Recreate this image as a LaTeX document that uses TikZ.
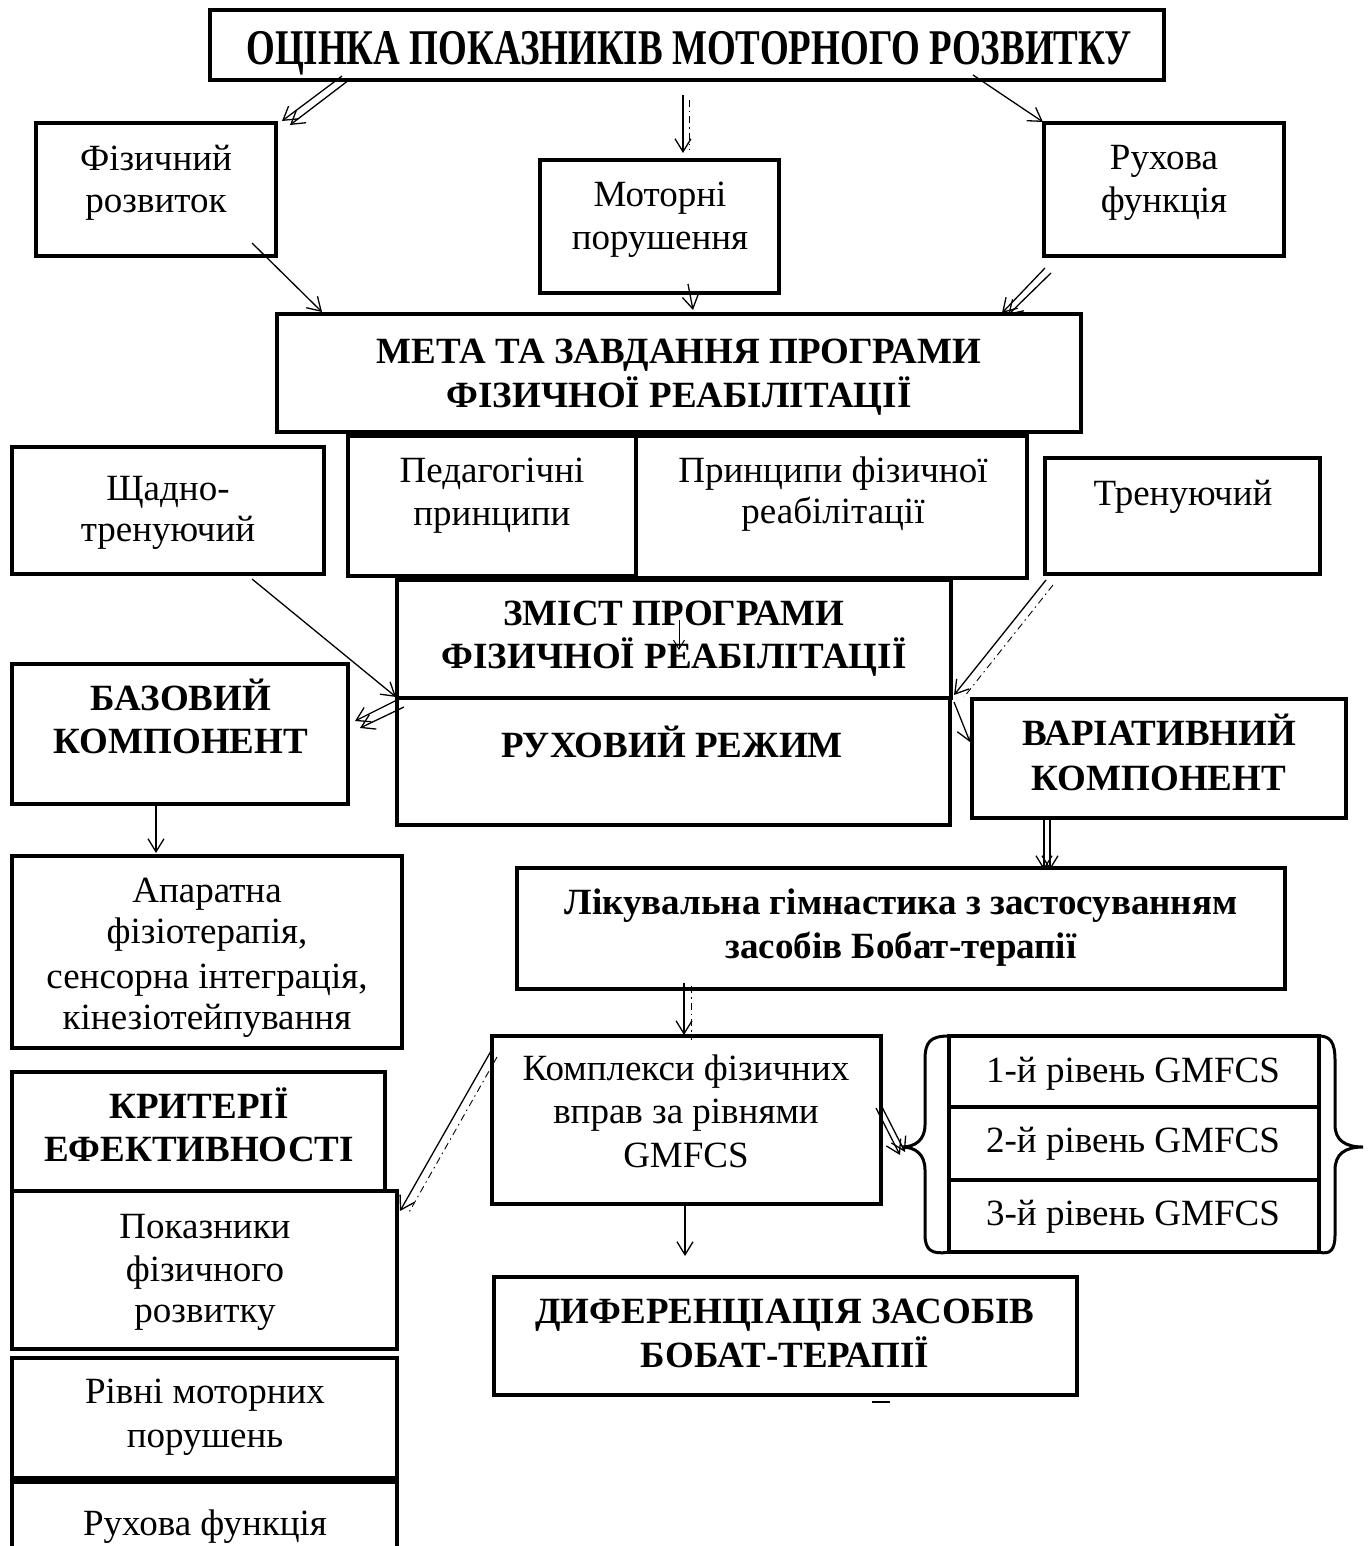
\documentclass[tikz,border=0pt]{standalone}
\usepackage{fontspec}
\setmainfont{Liberation Serif}
\usepackage{graphicx}
\usetikzlibrary{arrows.meta,calc,fit}
\tikzset{
  box/.style={draw, line width=4.5pt, inner sep=0pt, outer sep=0pt},
  txt/.style={anchor=base, inner sep=0pt, font=\fontsize{37}{43}\selectfont},
  txtb/.style={anchor=base, inner sep=0pt, font=\fontsize{37}{43}\selectfont\bfseries},
  arr/.style={line width=1.3pt, -{Straight Barb[length=13pt,width=16pt]}},
  dsh/.style={line width=0.9pt, dash pattern=on 7pt off 4pt on 1.5pt off 4pt},
  brc/.style={line width=3pt}
}
\newcommand{\Bx}[5]{\node[box, fit={(#2,#3) (#4,#5)}] (#1) {};}
\newcommand{\Tn}[4]{\node[txt] (#1) at (#2,#3) {#4};}
\newcommand{\Tb}[4]{\node[txtb] (#1) at (#2,#3) {#4};}
\begin{document}
\begin{tikzpicture}[x=1pt,y=-1pt]
\fill[white] (0,0) rectangle (1372,1546);
\useasboundingbox (0,0) rectangle (1372,1546);
\clip (0,0) rectangle (1372,1546);

% boxes
\Bx{title}{210}{10}{1164}{80}
\Bx{fiz}{36}{123}{276}{256}
\Bx{motor}{540}{160}{779}{293}
\Bx{ruh}{1044}{123}{1284}{256}
\Bx{meta}{277}{314}{1081}{432}
\Bx{shch}{12}{447}{324}{574}
\Bx{ped}{348}{436}{636}{576}
\Bx{princ}{636}{436}{1027}{578}
\Bx{tren}{1045}{458}{1320}{574}
\Bx{zmist}{397}{580}{951}{698}
\Bx{rezh}{397}{698}{950}{825}
\Bx{baz}{12}{664}{348}{804}
\Bx{var}{972}{699}{1346}{818}
\Bx{apar}{12}{856}{402}{1048}
\Bx{lik}{517}{868}{1285}{989}
\Bx{kompl}{492}{1036}{881}{1204}
\Bx{levA}{949}{1036}{1319}{1107}
\Bx{levB}{949}{1107}{1319}{1180}
\Bx{levC}{949}{1180}{1319}{1252}
\Bx{krit}{12}{1072}{385}{1191}
\Bx{pokaz}{12}{1191}{397}{1349}
\Bx{dyf}{494}{1277}{1077}{1395}
\Bx{rivni}{12}{1358}{397}{1478}
\Bx{ruhf}{12}{1482}{397}{1575}

% texts
\node[txtb] (tTitle) at (689,65) {\fontsize{37}{40}\selectfont\scalebox{1}[1.35]{ОЦІНКА ПОКАЗНИКІВ МОТОРНОГО РОЗВИТКУ}};
\Tn{tFa}{156}{171}{Фізичний}
\Tn{tFb}{156}{213}{розвиток}
\Tn{tMa}{660}{207}{Моторні}
\Tn{tMb}{660}{250}{порушення}
\Tn{tRa}{1164}{170}{Рухова}
\Tn{tRb}{1164}{213}{функція}
\Tb{tMeA}{679}{363}{МЕТА ТА ЗАВДАННЯ ПРОГРАМИ}
\Tb{tMeB}{679}{407}{ФІЗИЧНОЇ РЕАБІЛІТАЦІЇ}
\Tn{tSa}{168}{500}{Щадно-}
\Tn{tSb}{168}{541}{тренуючий}
\Tn{tPa}{492}{482}{Педагогічні}
\Tn{tPb}{492}{525}{принципи}
\Tn{tPrA}{833}{482}{Принципи фізичної}
\Tn{tPrB}{833}{523}{реабілітації}
\Tn{tTr}{1183}{505}{Тренуючий}
\Tb{tZa}{674}{625}{ЗМІСТ ПРОГРАМИ}
\Tb{tZb}{674}{668}{ФІЗИЧНОЇ РЕАБІЛІТАЦІЇ}
\Tb{tRz}{672}{757}{РУХОВИЙ РЕЖИМ}
\Tb{tBa}{181}{710}{БАЗОВИЙ}
\Tb{tBb}{181}{753}{КОМПОНЕНТ}
\Tb{tVa}{1159}{745}{ВАРІАТИВНИЙ}
\Tb{tVb}{1159}{790}{КОМПОНЕНТ}
\Tn{tAa}{207}{902}{Апаратна}
\Tn{tAb}{207}{943}{фізіотерапія,}
\Tn{tAc}{207}{988}{сенсорна інтеграція,}
\Tn{tAd}{207}{1029}{кінезіотейпування}
\Tb{tLa}{901}{914}{Лікувальна гімнастика з застосуванням}
\Tb{tLb}{901}{958}{засобів Бобат-терапії}
\Tn{tKa}{686}{1080}{Комплекси фізичних}
\Tn{tKb}{686}{1123}{вправ за рівнями}
\Tn{tKc}{686}{1167}{GMFCS}
\Tn{tL1}{1133}{1082}{1-й рівень GMFCS}
\Tn{tL2}{1133}{1152}{2-й рівень GMFCS}
\Tn{tL3}{1133}{1225}{3-й рівень GMFCS}
\Tb{tCa}{199}{1118}{КРИТЕРІЇ}
\Tb{tCb}{199}{1161}{ЕФЕКТИВНОСТІ}
\Tn{tPka}{205}{1238}{Показники}
\Tn{tPkb}{205}{1281}{фізичного}
\Tn{tPkc}{205}{1322}{розвитку}
\Tb{tDa}{785}{1323}{ДИФЕРЕНЦІАЦІЯ ЗАСОБІВ}
\Tb{tDb}{785}{1367}{БОБАТ-ТЕРАПІЇ}
\Tn{tRva}{205}{1403}{Рівні моторних}
\Tn{tRvb}{205}{1447}{порушень}
\Tn{tRf}{205}{1535}{Рухова функція}

% braces
\coordinate (bl) at (902,1147);
\coordinate (br) at (1363,1147);
\draw[brc] (levA.north west) .. controls (930,1036) and (925,1042) .. (925,1060) -- (925,1125)
  .. controls (925,1140) and (915,1147) .. (bl) .. controls (915,1147) and (925,1154) .. (925,1170)
  -- (925,1235) .. controls (925,1250) and (932,1255) .. (levC.south west);
\draw[brc] (levA.north east) .. controls (1330,1036) and (1335,1042) .. (1335,1060) -- (1335,1125)
  .. controls (1335,1140) and (1345,1147) .. (br) .. controls (1345,1147) and (1335,1154) .. (1335,1170)
  -- (1335,1235) .. controls (1335,1250) and (1330,1255) .. (levC.south east);

% connectors
\draw[arr] ($(title.south west)+(132,-4)$) -- ($(fiz.north east)+(6,-2)$);
\draw[arr] ($(title.south west)+(139,0)$) -- ($(fiz.north east)+(14,2)$);
\draw[arr] ($(title.south west)+(473,15)$) -- ($(motor.north west)+(143,-7)$);
\draw[dsh] ($(title.south west)+(479,20)$) -- ($(motor.north west)+(149,-10)$);
\draw[arr] ($(title.south west)+(763,-5)$) -- ($(ruh.north west)+(-1,-1)$);
\draw[arr] ($(fiz.south east)+(-24,-13)$) -- ($(meta.north west)+(45,-2)$);
\draw[arr] ($(motor.south west)+(148,-9)$) -- ($(meta.north west)+(416,-4)$);
\draw[arr] ($(ruh.south west)+(1,12)$) -- ($(meta.north east)+(-79,-1)$);
\draw[arr] ($(ruh.south west)+(7,17)$) -- ($(meta.north east)+(-73,1)$);
\draw[arr] ($(shch.south east)+(-72,5)$) -- ($(zmist.south west)+(-1,-1)$);
\draw[arr] ($(zmist.south west)+(2,1)$) -- ($(baz.north east)+(7,57)$);
\draw[arr] ($(zmist.south west)+(7,9)$) -- ($(baz.north east)+(12,64)$);
\draw[line width=1pt, -{Straight Barb[length=9pt,width=11pt]}] ($(zmist.north west)+(282,40)$) -- ($(zmist.north west)+(282,70)$);
\draw[arr] ($(tren.south west)+(1,6)$) -- ($(zmist.south east)+(3,-3)$);
\draw[dsh] ($(tren.south west)+(8,11)$) -- ($(zmist.south east)+(13,-1)$);
\draw[arr] ($(rezh.north east)+(4,4)$) -- ($(var.north west)+(-2,43)$);
\draw[arr] ($(baz.south west)+(144,0)$) -- ($(apar.north west)+(144,-3)$);
\draw[arr] ($(var.south west)+(72,1)$) -- ($(lik.north west)+(527,2)$);
\draw[arr] ($(var.south west)+(78,1)$) -- ($(lik.north west)+(533,2)$);
\draw[arr] ($(lik.south west)+(167,-6)$) -- ($(kompl.north west)+(192,-1)$);
\draw[dsh] ($(lik.south west)+(174,-3)$) -- ($(kompl.north west)+(199,4)$);
\draw[arr] ($(kompl.north west)+(-1,15)$) -- ($(pokaz.north east)+(3,20)$);
\draw[dsh] ($(kompl.north west)+(5,21)$) -- ($(pokaz.north east)+(11,23)$);
\draw[arr] ($(kompl.north east)+(-5,72)$) -- ($(bl)+(-2,8)$);
\draw[arr] ($(kompl.north east)+(0,69)$) -- ($(bl)+(3,5)$);
\draw[arr] ($(kompl.south west)+(193,0)$) -- ($(dyf.north west)+(191,-21)$);
\draw[line width=1.5pt] ($(dyf.south west)+(378,7)$) -- ($(dyf.south west)+(396,7)$);
\end{tikzpicture}
\end{document}
